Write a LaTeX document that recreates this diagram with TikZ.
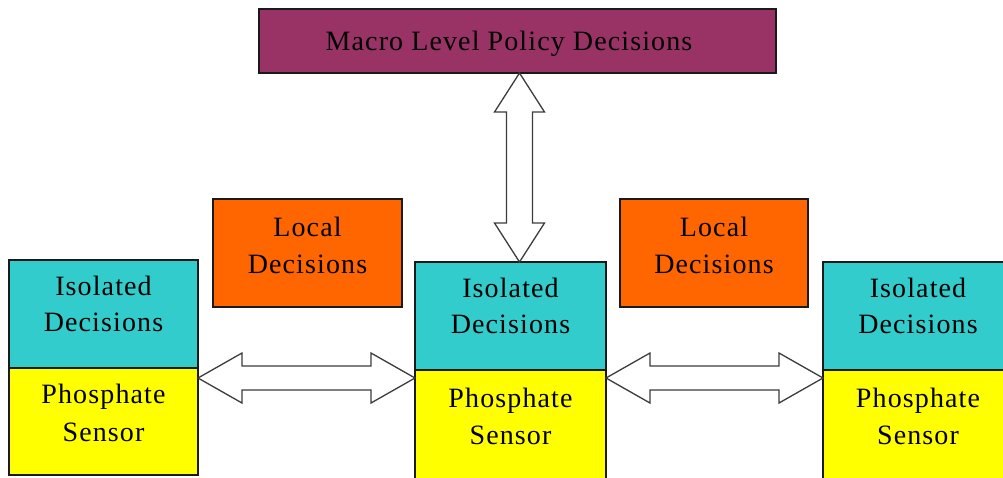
\documentclass[tikz,border=0pt]{standalone}
\usepackage{fontspec}
\setmainfont{Liberation Serif}[LetterSpace=4]
\usetikzlibrary{calc}
\definecolor{cpurple}{HTML}{993366}
\definecolor{ccyan}{HTML}{33CCCC}
\definecolor{cyellow}{HTML}{FFFF00}
\definecolor{corange}{HTML}{FF6600}
\definecolor{cline}{HTML}{1A1A1A}
\newcommand\myharrow[2]{\draw[barrow] (#1) -- ($(#1)+(44,-25)$) -- ($(#1)+(44,-12)$) -- ($(#2)+(-44,-12)$) -- ($(#2)+(-44,-25)$) -- (#2) -- ($(#2)+(-44,25)$) -- ($(#2)+(-44,12)$) -- ($(#1)+(44,12)$) -- ($(#1)+(44,25)$) -- cycle;}
\newcommand\myvarrow[2]{\draw[barrow] (#1) -- ($(#1)+(25,39)$) -- ($(#1)+(13,39)$) -- ($(#2)+(13,-39)$) -- ($(#2)+(25,-39)$) -- (#2) -- ($(#2)+(-25,-39)$) -- ($(#2)+(-13,-39)$) -- ($(#1)+(-13,39)$) -- ($(#1)+(-25,39)$) -- cycle;}
\begin{document}
\begin{tikzpicture}[x=1pt,y=-1pt,
  box/.style={draw=cline, line width=1.2pt, anchor=north west, inner sep=0pt, outer sep=0pt},
  txt/.style={anchor=base, inner sep=0pt, text=black, font=\fontsize{28}{37}\selectfont},
  barrow/.style={draw=cline!85, line width=1.3pt, fill=white, line join=miter}]
\clip (0,0) rectangle (1003,477);
\fill[white] (0,0) rectangle (1003,477);
% boxes
\node[box, fill=cpurple, minimum width=517pt, minimum height=64pt] (macro) at (259,9) {};
\node[box, fill=corange, minimum width=189pt, minimum height=108pt] (loc1) at (213,199) {};
\node[box, fill=corange, minimum width=188pt, minimum height=108pt] (loc2) at (620,199) {};
\node[box, fill=ccyan, minimum width=189pt, minimum height=108pt] (iso1) at (9,260) {};
\node[box, fill=cyellow, minimum width=189pt, minimum height=107pt] (ph1) at (9,368) {};
\node[box, fill=ccyan, minimum width=191pt, minimum height=108pt] (iso2) at (415,262) {};
\node[box, fill=cyellow, minimum width=191pt, minimum height=112pt] (ph2) at (415,370) {};
\node[box, fill=ccyan, minimum width=190pt, minimum height=108pt] (iso3) at (823,262) {};
\node[box, fill=cyellow, minimum width=190pt, minimum height=112pt] (ph3) at (823,370) {};
% texts
\node[txt] (tmacro) at (509,50) {Macro Level Policy Decisions};
\node[txt] (tl1a) at ($(loc1.north)+(0,37)$) {Local};
\node[txt] (tl1b) at ($(loc1.north)+(0,74)$) {Decisions};
\node[txt] (tl2a) at ($(loc2.north)+(0,37)$) {Local};
\node[txt] (tl2b) at ($(loc2.north)+(0,74)$) {Decisions};
\node[txt] (ti1a) at ($(iso1.north)+(0,35)$) {Isolated};
\node[txt] (ti1b) at ($(iso1.north)+(0,71)$) {Decisions};
\node[txt] (ti2a) at ($(iso2.north)+(0,35)$) {Isolated};
\node[txt] (ti2b) at ($(iso2.north)+(0,71)$) {Decisions};
\node[txt] (ti3a) at ($(iso3.north)+(0,35)$) {Isolated};
\node[txt] (ti3b) at ($(iso3.north)+(0,71)$) {Decisions};
\node[txt] (tp1a) at ($(ph1.north)+(0,35)$) {Phosphate};
\node[txt] (tp1b) at ($(ph1.north)+(0,73)$) {Sensor};
\node[txt] (tp2a) at ($(ph2.north)+(0,37)$) {Phosphate};
\node[txt] (tp2b) at ($(ph2.north)+(0,74)$) {Sensor};
\node[txt] (tp3a) at ($(ph3.north)+(0,37)$) {Phosphate};
\node[txt] (tp3b) at ($(ph3.north)+(0,74)$) {Sensor};
% arrows
\coordinate (vtop) at ($(macro.south)+(2,0)$);
\coordinate (vbot) at (vtop |- iso2.north);
\myvarrow{vtop}{vbot}
\coordinate (h1a) at ($(ph1.north east)+(0,10)$);
\coordinate (h1b) at (h1a -| ph2.west);
\myharrow{h1a}{h1b}
\coordinate (h2a) at ($(ph2.north east)+(0,8)$);
\coordinate (h2b) at (h2a -| ph3.west);
\myharrow{h2a}{h2b}
\end{tikzpicture}
\end{document}
